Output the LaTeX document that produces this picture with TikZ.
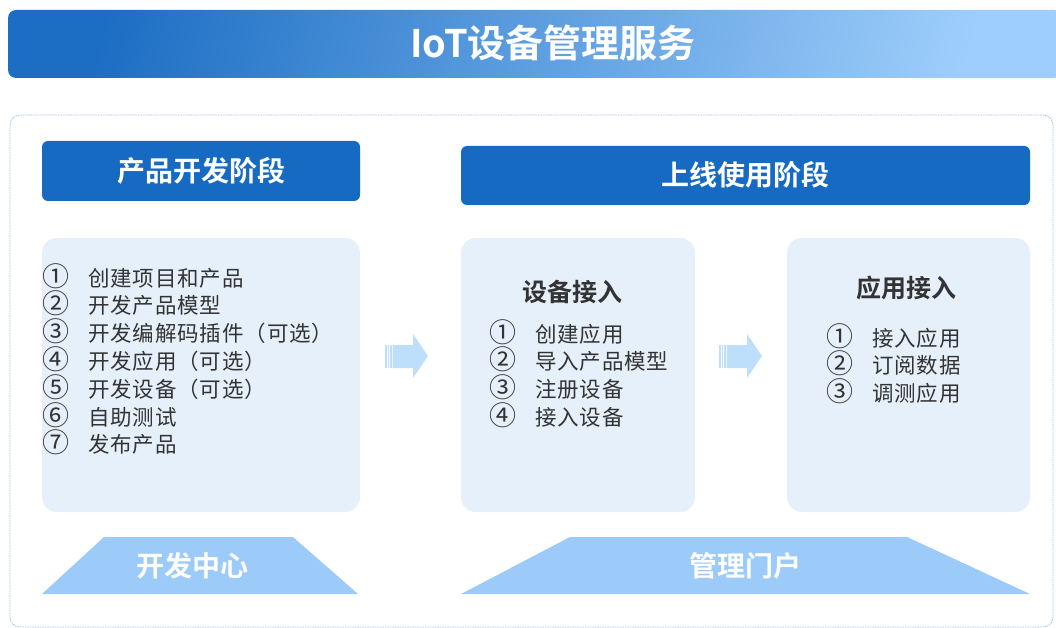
\documentclass[tikz,border=0pt]{standalone}
\usepackage{fontspec}
\setmainfont{Noto Sans CJK SC}
\newfontfamily\cjkb{Noto Sans CJK SC Bold}
\usetikzlibrary{shapes.geometric}
\definecolor{titleA}{HTML}{1C6EC4}
\definecolor{titleB}{HTML}{9ECEFB}
\definecolor{hdr}{HTML}{166AC2}
\definecolor{boxfill}{HTML}{E5F0FB}
\definecolor{arrowc}{HTML}{BEDFFC}
\definecolor{trap}{HTML}{9CCBFA}
\definecolor{dashc}{HTML}{9DC3EC}
\definecolor{txt}{HTML}{333333}
\tikzset{
  x=1pt,y=-1pt,
  header/.style={fill=hdr,rounded corners=6pt,draw=none},
  panel/.style={fill=boxfill,rounded corners=15pt,draw=none},
  hdrtext/.style={text=white,font=\cjkb\fontsize{28}{32}\selectfont,inner sep=0pt},
  subtitle/.style={text=txt,font=\cjkb\fontsize{25}{30}\selectfont,inner sep=0pt},
  listtext/.style={text=txt,font=\addfontfeatures{LetterSpace=4}\fontsize{21.5}{26}\selectfont,anchor=base west,inner sep=0pt},
  listnum/.style={text=txt,font=\fontsize{27}{30}\selectfont,anchor=base west,inner sep=0pt},
  blockarrow/.style={fill=arrowc,draw=none},
  trapfill/.style={fill=trap,draw=none},
}
\begin{document}
\begin{tikzpicture}
\useasboundingbox (0,0) rectangle (1056,628);
% title bar
\shade[rounded corners=8pt,left color=titleA,right color=titleB,shading angle=75] (8,10) rectangle (1062,78);
\node[text=white,font=\cjkb\fontsize{38}{42}\selectfont,inner sep=0pt] (title) at (553,43) {IoT设备管理服务};
% dashed container
\draw[dashc,line width=0.8pt,dash pattern=on 1.5pt off 1pt,rounded corners=10pt] (10,115) rectangle (1053,627);
% headers
\fill[header] (42,141) rectangle (360,201);
\node[hdrtext] (h1) at (201,171) {产品开发阶段};
\fill[header] (461,146) rectangle (1030,205);
\node[hdrtext] (h2) at (745,175) {上线使用阶段};
% panels
\fill[panel] (42,238) rectangle (360,512);
\fill[panel] (461,238) rectangle (695,512);
\fill[panel] (787,238) rectangle (1030,512);
% left list
\foreach \t [count=\i] in {创建项目和产品,开发产品模型,开发编解码插件（可选）,开发应用（可选）,开发设备（可选）,自助测试,发布产品}{
  \pgfmathsetmacro\yy{286+27.8*(\i-1)}
  \node[listnum] (ln\i) at (42,\yy) {\ifcase\i\or ①\or ②\or ③\or ④\or ⑤\or ⑥\or ⑦\fi};
  \node[listtext] (lt\i) at (88,\yy) {\t};
}
% middle
\node[subtitle] (s2) at (572,292) {设备接入};
\foreach \t [count=\i] in {创建应用,导入产品模型,注册设备,接入设备}{
  \pgfmathsetmacro\yy{342+27.8*(\i-1)}
  \node[listnum] (mn\i) at (489,\yy) {\ifcase\i\or ①\or ②\or ③\or ④\fi};
  \node[listtext] (mt\i) at (535,\yy) {\t};
}
% right
\node[subtitle] (s3) at (906,288) {应用接入};
\foreach \t [count=\i] in {接入应用,订阅数据,调测应用}{
  \pgfmathsetmacro\yy{346+27.8*(\i-1)}
  \node[listnum] (rn\i) at (826,\yy) {\ifcase\i\or ①\or ②\or ③\fi};
  \node[listtext] (rt\i) at (872,\yy) {\t};
}
% block arrows
\foreach \x/\n in {385/a1,719/a2}{
  \begin{scope}[xshift=\x]
    \fill[blockarrow] (0,345) rectangle (1.5,368);
    \fill[blockarrow] (2.5,345) rectangle (4,368);
    \fill[blockarrow] (5,345) rectangle (6.5,368);
    \fill[blockarrow] (7.5,345) -- (28,345) -- (28,334) -- (43,356) -- (28,378) -- (28,368) -- (7.5,368) -- cycle;
  \end{scope}
}
% trapezoids
\fill[trapfill] (42,594) -- (104,537) -- (293,537) -- (358,594) -- cycle;
\node[hdrtext] (t1) at (192,566) {开发中心};
\fill[trapfill] (461,594) -- (570,537) -- (907,537) -- (1030,594) -- cycle;
\node[hdrtext] (t2) at (745,566) {管理门户};
\end{tikzpicture}
\end{document}
